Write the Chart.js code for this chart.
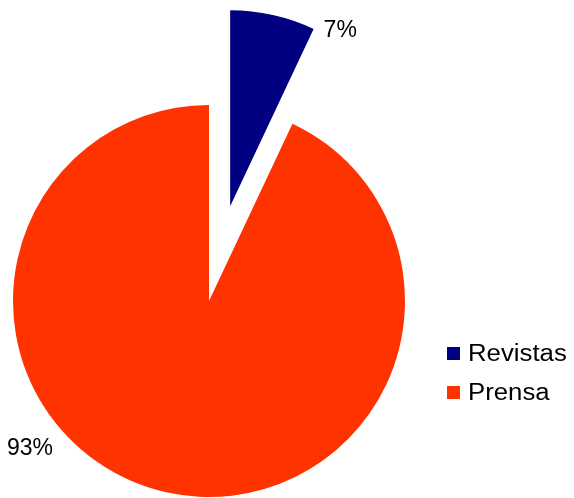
<!DOCTYPE html>
<html>
<head>
<meta charset="utf-8">
<script src="https://cdn.jsdelivr.net/npm/chart.js@4"></script>
<style>
  html, body { margin: 0; padding: 0; background: #fff; }
</style>
</head>
<body>
<canvas id="chart" width="574" height="498"></canvas>
<script>
// data
var labels = ['Revistas', 'Prensa']
var values = [7, 93]
var pctLabels = ['7%', '93%']
var colors = ['#000080', '#FF3300']

// pull the small slice out of the pie (chart.js offset also grows the radius, so move the arc itself)
var explode = {
    id: 'explode',
    afterDatasetUpdate: function (chart, args, opts) {
        var arcs = chart.getDatasetMeta(0).data
        arcs.forEach(function (arc, i) {
            var d = opts.distance[i] || 0
            if (!d) return
            var mid = (arc.startAngle + arc.endAngle) / 2
            arc.x += Math.cos(mid) * d
            arc.y += Math.sin(mid) * d
        })
    }
}

// labels and legend, drawn on the canvas
var extras = {
    id: 'extras',
    afterDraw: function (chart) {
        var ctx = chart.ctx
        var arcs = chart.getDatasetMeta(0).data
        ctx.save()
        ctx.fillStyle = '#000'
        ctx.font = '23px "Liberation Sans", Arial, sans-serif'
        ctx.textBaseline = 'alphabetic'

        // 7% sits just right of the end of the small slice
        var a = arcs[0]
        var ex = a.x + a.outerRadius * Math.cos(a.endAngle)
        var ey = a.y + a.outerRadius * Math.sin(a.endAngle)
        ctx.textAlign = 'left'
        ctx.fillText(pctLabels[0], ex + 10, ey + 8)

        // 93% at the lower left of the big slice
        var b = arcs[1]
        ctx.textAlign = 'center'
        ctx.fillText(pctLabels[1], b.x - 179, b.y + 154)

        // legend
        var lx = 447, ly = 347, step = 39
        for (var i = 0; i < labels.length; i++) {
            ctx.fillStyle = colors[i]
            ctx.fillRect(lx, ly + i * step, 13, 13)
            ctx.fillStyle = '#000'
            ctx.textAlign = 'left'
            ctx.save()
            ctx.translate(lx + 21, ly + 14 + i * step)
            ctx.scale(1.12, 1)
            ctx.fillText(labels[i], 0, 0)
            ctx.restore()
        }
        ctx.restore()
    }
}

var ctx = document.getElementById('chart').getContext('2d')
var chart = new Chart(ctx, {
    type: 'pie',
    data: {
        labels: labels,
        datasets: [{
            data: values,
            backgroundColor: colors,
            borderWidth: 0
        }]
    },
    options: {
        responsive: false,
        animation: false,
        radius: 196,
        layout: {
            padding: { left: 0, right: 156, top: 104, bottom: 0 }
        },
        plugins: {
            legend: { display: false },
            tooltip: { enabled: false },
            explode: { distance: [97, 0] }
        }
    },
    plugins: [explode, extras]
})
</script>
</body>
</html>
